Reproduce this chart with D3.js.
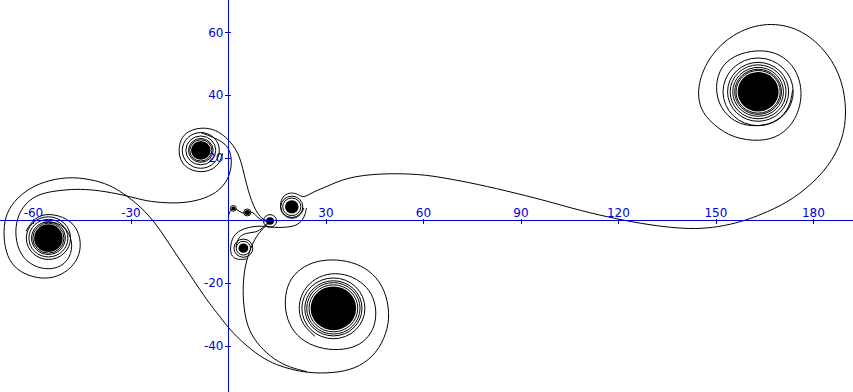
<!DOCTYPE html>
<html>
<head>
<meta charset="utf-8">
<script src="https://cdn.jsdelivr.net/npm/d3@7"></script>
<style>
  html, body { margin: 0; padding: 0; background: #fff; }
  svg { display: block; }
  .tick-label { font-family: "DejaVu Sans", sans-serif; font-size: 12px; fill: #0000dd; }
</style>
</head>
<body>
<div id="chart"></div>
<script>
// tick values on both axes
const xTicks = [-60, -30, 30, 60, 90, 120, 150, 180];
const yTicks = [60, 40, 20, -20, -40];

// curve pieces, [x, y] in axis units
// from spiral C over the hump and round into the big spiral H
const strandCH = [
  [23.2, 3.9], [22.3, 1.7], [20.2, 0.4], [17.7, 0.9], [16.0, 3.0], [15.9, 5.8], [17.1, 8.1],
  [19.2, 8.9], [21.4, 8.4], [23.0, 7.0], [26.1, 9.1], [30.2, 10.7], [36.4, 13.7], [46.6, 15.0],
  [58.9, 14.8], [67.1, 13.4], [76.4, 11.6], [88.7, 8.6], [98.9, 5.9], [108.2, 3.1], [119.9, 0.3],
  [129.7, -1.5], [137.9, -2.5], [145.1, -2.8], [152.8, -1.8], [159.5, 0.1], [163.5, 1.7],
  [171.8, 5.4], [180.0, 11.8], [186.1, 19.2], [189.7, 27.8], [190.2, 37.3], [188.2, 46.9],
  [183.0, 55.4], [174.8, 61.8], [164.6, 63.2], [155.0, 59.5], [148.0, 52.5], [144.3, 43.5],
  [144.8, 35.6], [149.2, 30.4], [155.3, 26.2], [163.5, 25.1], [169.7, 26.7], [174.8, 32.0],
  [176.9, 40.5], [174.8, 48.5], [169.7, 53.3], [163.0, 54.6], [155.3, 52.7], [150.7, 48.0],
  [149.7, 40.5], [152.3, 34.2], [157.4, 30.4], [163.5, 29.9], [169.0, 31.5], [172.8, 36.0],
  [173.6, 41.5]
];

// from spiral A over the top, down the long diagonal and round spiral G
const strandAG = [
  [-62.3, -3.5], [-59.8, 0.8], [-55.4, 2.4], [-49.3, 0.6], [-46.2, -3.1], [-45.2, -8.4],
  [-46.7, -13.3], [-50.3, -16.9], [-54.9, -18.7],
  [-60.1, -18.3], [-65.2, -15.9], [-68.2, -11.6], [-69.3, -5.2], [-68.8, 1.2], [-66.2, 5.9],
  [-62.1, 9.7], [-57.0, 12.3], [-49.8, 13.9], [-42.6, 13.2], [-36.5, 11.3], [-32.4, 8.6],
  [-28.2, 5.4], [-23.1, 0.1], [-19.0, -6.3], [-14.9, -12.7], [-10.8, -19.0], [-6.7, -25.4],
  [-2.6, -30.8], [0.5, -35.0], [4.6, -39.2], [9.7, -43.5], [14.8, -46.2], [20.0, -47.8],
  [26.1, -48.9], [34.3, -48.6], [40.5, -46.7], [45.6, -42.4], [48.7, -36.1], [49.7, -29.7],
  [48.2, -22.2], [44.6, -16.9], [39.5, -13.7], [33.3, -12.4], [27.1, -12.9], [22.0, -15.3],
  [18.4, -19.6], [17.2, -25.4], [17.9, -31.8], [21.0, -37.1], [26.1, -40.3], [32.3, -41.6],
  [38.4, -40.8], [42.5, -38.2], [45.1, -33.9], [45.6, -28.6], [44.3, -23.4], [40.8, -19.4],
  [35.8, -17.0], [30.3, -16.9], [25.6, -19.2], [22.4, -23.3], [21.4, -28.6], [22.8, -33.4],
  [26.6, -37.0]
];

// outer loop of spiral B, then down into the small spiral D
const strandBD = [
  [-1.8, 21.4], [-2.8, 17.9], [-5.7, 15.7], [-9.3, 15.3], [-12.9, 16.6], [-14.9, 19.2],
  [-15.4, 23.0], [-14.4, 26.7], [-11.8, 28.8], [-7.7, 29.7], [-3.8, 28.8], [-0.8, 26.6],
  [1.4, 24.0], [2.9, 21.5], [4.0, 18.3], [4.8, 14.8], [5.7, 11.0], [6.6, 7.8], [7.6, 4.9],
  [8.9, 2.2], [10.7, 0.1], [12.8, -0.4]
];

// from spiral B round its right side and across to spiral A
const strandBA = [
  [-8.5, 28.0], [-4.5, 26.4], [-2.0, 25.1], [-0.1, 23.4], [0.8, 20.8], [1.0, 17.7], [0.2, 13.8],
  [-2.0, 10.3], [-5.7, 7.5], [-11.8, 5.7], [-18.0, 5.4], [-24.1, 6.0], [-27.2, 6.7], [-32.4, 8.1],
  [-39.5, 9.5], [-45.7, 10.0], [-50.8, 9.7], [-58.0, 8.7], [-62.6, 5.5], [-65.2, 0.6],
  [-65.7, -5.2], [-64.1, -11.1], [-60.1, -14.8], [-54.9, -15.9], [-50.3, -14.3], [-47.7, -9.5],
  [-48.8, -3.7], [-52.5, -0.5], [-57.0, -0.6]
];

// from spiral G up the left side to D
const strandGD = [
  [24.1, -48.3], [17.9, -46.7], [12.8, -43.5], [8.7, -39.2], [5.6, -33.9], [4.4, -25.4],
  [4.6, -19.0], [5.1, -14.8], [6.1, -11.1], [7.6, -6.8], [9.7, -3.6], [11.8, -1.5], [12.8, -0.2]
];

// loop round spiral E and the flat run under the axis to C
const strandEC = [
  [5.6, -12.3], [3.0, -12.7], [1.0, -11.6], [0.5, -9.5], [1.0, -5.7], [3.0, -3.4], [6.1, -2.2],
  [10.2, -1.7], [13.8, -2.4], [19.5, -2.2], [22.0, -1.0], [23.5, 1.2], [24.0, 3.9]
];

// short link from E up to D
const strandED = [
  [2.3, -8.5], [3.0, -5.3], [5.4, -4.0], [8.5, -3.9], [10.6, -2.5], [12.3, -0.5]
];

// the little squiggle that starts at the origin
const strandStart = [
  [0.0, 1.2], [0.2, 2.3], [0.8, 3.3], [1.5, 3.8], [2.6, 3.5], [3.5, 2.7], [4.5, 2.2],
  [5.8, 2.5], [6.9, 2.8], [7.9, 2.2], [8.8, 1.1], [10.3, -0.1], [12.2, -0.4]
];

// spiral eyes: centre, solid core radius and the visible inner rings
const spiralNames = ["H", "G", "A", "B", "C", "D", "E", "t1", "t2"];
const spiralX = [163.0, 32.3, -55.4, -8.5, 19.5, 12.8, 4.6, 1.5, 5.8];
const spiralY = [41.0, -28.1, -5.7, 22.3, 4.3, -0.2, -8.9, 3.8, 2.5];
const spiralCore = [6.3, 7.0, 4.4, 3.0, 2.1, 1.2, 1.5, 0.6, 0.8];
const spiralRings = [
  [6.8, 7.2, 7.8, 8.6, 9.4, 10.8],
  [7.5, 8.2, 8.8, 9.7],
  [4.8, 5.2, 6.0, 6.8],
  [3.4, 3.8, 4.6, 5.7],
  [2.8, 3.4],
  [2.0],
  [2.2, 2.9],
  [0.9],
  [1.1]
];

const width = 853, height = 392;
const axisColor = "#0000dd";

const x = d3.scaleLinear().domain([-70.3, 192.2]).range([0, width]);
const y = d3.scaleLinear().domain([-54.8, 70.3]).range([height, 0]);

const svg = d3.select("#chart")
  .append("svg")
  .attr("width", width)
  .attr("height", height);

svg.append("rect")
  .attr("width", width)
  .attr("height", height)
  .attr("fill", "#fff");

// the curve itself
const line = d3.line()
  .x(d => x(d[0]))
  .y(d => y(d[1]))
  .curve(d3.curveBasis);

const strands = [strandCH, strandAG, strandBD, strandBA, strandGD, strandEC, strandED, strandStart];

svg.append("g")
  .selectAll("path")
  .data(strands)
  .join("path")
  .attr("d", line)
  .attr("fill", "none")
  .attr("stroke", "#000")
  .attr("stroke-width", 1);

// rings and cores of each spiral
const spirals = spiralNames.map((name, i) => ({
  name: name,
  cx: spiralX[i],
  cy: spiralY[i],
  core: spiralCore[i],
  rings: spiralRings[i]
}));

const rx = (cx, r) => x(cx + r) - x(cx);
const ry = (cy, r) => y(cy) - y(cy + r);

const eyes = svg.append("g")
  .selectAll("g")
  .data(spirals)
  .join("g");

eyes.selectAll("ellipse.ring")
  .data(d => d.rings.map(r => ({ cx: d.cx, cy: d.cy, r: r })))
  .join("ellipse")
  .attr("class", "ring")
  .attr("cx", d => x(d.cx))
  .attr("cy", d => y(d.cy))
  .attr("rx", d => rx(d.cx, d.r))
  .attr("ry", d => ry(d.cy, d.r))
  .attr("fill", "none")
  .attr("stroke", "#000")
  .attr("stroke-width", 1);

eyes.append("ellipse")
  .attr("cx", d => x(d.cx))
  .attr("cy", d => y(d.cy))
  .attr("rx", d => rx(d.cx, d.core))
  .attr("ry", d => ry(d.cy, d.core))
  .attr("fill", "#000");

// axes drawn on top, the way the original does
const x0 = Math.round(x(0)) + 0.5;
const y0 = Math.round(y(0)) + 0.5;

const axes = svg.append("g")
  .attr("stroke", axisColor)
  .attr("stroke-width", 1)
  .attr("shape-rendering", "crispEdges");

axes.append("line")
  .attr("x1", 0).attr("x2", width)
  .attr("y1", y0).attr("y2", y0);

axes.append("line")
  .attr("x1", x0).attr("x2", x0)
  .attr("y1", 0).attr("y2", height);

axes.selectAll("line.xt")
  .data(xTicks)
  .join("line")
  .attr("class", "xt")
  .attr("x1", d => Math.round(x(d)) + 0.5)
  .attr("x2", d => Math.round(x(d)) + 0.5)
  .attr("y1", y0 - 2)
  .attr("y2", y0 + 3);

axes.selectAll("line.yt")
  .data(yTicks)
  .join("line")
  .attr("class", "yt")
  .attr("x1", x0 - 4)
  .attr("x2", x0 + 2)
  .attr("y1", d => Math.round(y(d)) + 0.5)
  .attr("y2", d => Math.round(y(d)) + 0.5);

svg.append("g")
  .selectAll("text")
  .data(xTicks)
  .join("text")
  .attr("class", "tick-label")
  .attr("x", d => x(d))
  .attr("y", y0 - 4)
  .attr("text-anchor", "middle")
  .text(d => d);

svg.append("g")
  .selectAll("text")
  .data(yTicks)
  .join("text")
  .attr("class", "tick-label")
  .attr("x", x0 - 5)
  .attr("y", d => y(d) + 4.5)
  .attr("text-anchor", "end")
  .text(d => d);
</script>
</body>
</html>
